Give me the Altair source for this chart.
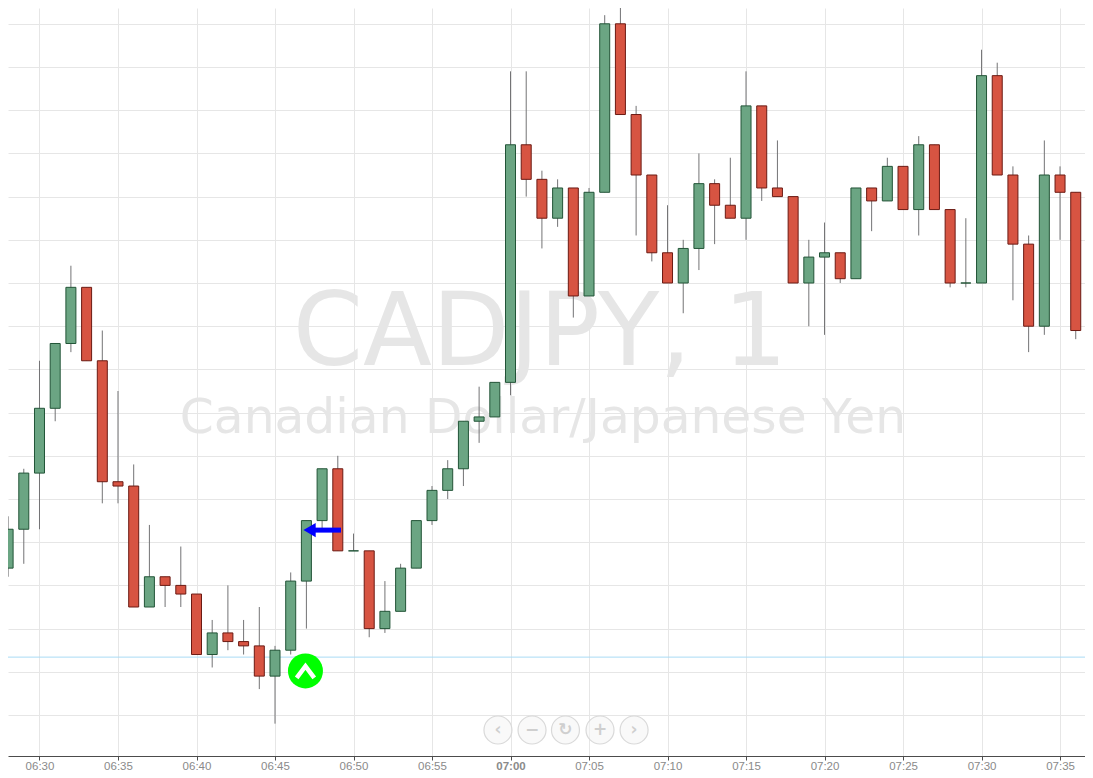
import altair as alt
import pandas as pd

BASE = 84.0
START = 388  # first candle, minutes after midnight (06:28)

# candle values, thousandths of a yen above BASE
opens = [34,43,56,71,86,99,82,54,53,25,32,30,28,14,19,17,16,9,15,31,45,57,38,38,20,24,34,45,52,57,68,69,77,132,124,115,122,97,121,160,139,125,107,100,108,123,118,115,141,122,120,100,106,107,101,122,119,127,117,132,117,100,100,148,125,109,90,125,121,89]
closes = [43,56,71,86,99,82,54,53,25,32,30,28,14,19,17,16,9,15,31,45,57,38,38,20,24,34,45,52,57,68,69,77,132,124,115,122,97,121,160,139,125,107,100,108,123,118,115,141,122,120,100,106,107,101,122,119,127,117,132,117,100,100,148,125,109,90,125,121,89,66]
highs = [46,57,82,86,104,99,89,75,58,44,32,39,28,22,30,22,25,16,33,45,57,60,42,38,31,35,45,53,59,68,76,77,149,149,126,124,122,122,162,166,141,125,118,110,130,124,129,149,141,133,120,110,114,107,122,122,129,127,134,132,117,115,154,151,127,111,133,127,121,102]
lows = [32,35,43,68,84,82,49,49,25,25,25,25,14,11,15,14,6,-2,14,20,43,38,38,18,19,24,34,44,50,53,63,69,74,120,108,113,92,97,121,139,111,105,100,93,103,109,115,110,119,120,100,90,88,100,101,112,119,117,111,117,99,99,100,125,96,84,88,110,87,63]

tick_minutes = list(range(390, 456, 5))
grid_levels = [BASE + i / 100 for i in range(0, 17)]

title_main = "CADJPY, 1"
title_sub = "Canadian Dollar/Japanese Yen"
nav_minutes = [419.2, 421.37, 423.5, 425.7, 427.87]
nav_glyphs = ["‹", "−", "↻", "+", "›"]

def price(q):
    return BASE + q / 1000

candles = pd.DataFrame({
    "minute": [START + i for i in range(len(opens))],
    "open": [price(v) for v in opens],
    "close": [price(v) for v in closes],
    "high": [price(v) for v in highs],
    "low": [price(v) for v in lows],
})
candles["dir"] = ["up" if c >= o else "down" for o, c in zip(opens, closes)]

xs = alt.Scale(domain=[387.994, 456.59], nice=False, zero=False, padding=0)
ys = alt.Scale(domain=[83.99051, 84.16366], nice=False, zero=False, padding=0)

x_axis = alt.Axis(
    values=tick_minutes, grid=True, gridColor="#e6e6e6", gridWidth=1, title=None,
    domainColor="#4c4c4c", domainWidth=1, tickColor="#4c4c4c", tickSize=4,
    labelColor="#8a8a8a", labelFont="Liberation Sans", labelFontSize=11.5, labelPadding=0,
    labelFlush=False, labelOverlap=False,
    labelExpr="format(floor(datum.value/60),'02') + ':' + format(datum.value%60,'02')",
    labelFontWeight=alt.condition("datum.value == 420", alt.value("bold"), alt.value("normal")),
)
y_axis = alt.Axis(
    values=grid_levels, grid=True, gridColor="#e6e6e6", gridWidth=1, title=None,
    labels=False, ticks=False, domain=False,
)
X = lambda f="minute": alt.X(f"{f}:Q", scale=xs, axis=x_axis)
Y = lambda f="price": alt.Y(f"{f}:Q", scale=ys, axis=y_axis)

fills = alt.Scale(domain=["up", "down"], range=["#6ba583", "#d75442"])
strokes = alt.Scale(domain=["up", "down"], range=["#225437", "#6b1a13"])

watermark = alt.Chart(pd.DataFrame({
    "minute": [421.88, 422.07], "price": [price(81), price(65.3)],
    "label": [title_main, title_sub], "size": [100.7, 48.7],
})).mark_text(font="DejaVu Sans", color="#e6e6e6", align="center", baseline="alphabetic").encode(
    x=X(), y=Y(), text="label:N", size=alt.Size("size:Q", scale=None, legend=None),
)

level = alt.Chart(pd.DataFrame({"price": [price(13.4)]})).mark_rule(color="#a9dcf5", strokeWidth=1).encode(y=Y())

wicks = alt.Chart(candles).mark_rule(color="#737375", strokeWidth=1, clip=True).encode(
    x=X(), y=Y("low"), y2="high:Q",
)
bodies = alt.Chart(candles).mark_bar(width=10, strokeWidth=1, clip=True).encode(
    x=X(), y=Y("open"), y2="close:Q",
    fill=alt.Fill("dir:N", scale=fills, legend=None),
    stroke=alt.Stroke("dir:N", scale=strokes, legend=None),
)

badge = alt.Chart(pd.DataFrame({"minute": [406.94], "price": [price(10.2)]})).mark_point(
    shape="circle", filled=True, size=1225, color="#00ff00", opacity=1).encode(x=X(), y=Y())
chevron = alt.Chart(pd.DataFrame({"minute": [406.38, 406.94, 407.5], "price": [price(8.6), price(11.3), price(8.6)]})).mark_line(
    color="#ffffff", strokeWidth=4.5).encode(x=X(), y=Y())

shaft = alt.Chart(pd.DataFrame({"minute": [407.3], "end": [409.2], "price": [price(42.8)]})).mark_rule(
    color="#0000ff", strokeWidth=5).encode(x=X(), x2="end:Q", y=Y())
head = alt.Chart(pd.DataFrame({"minute": [407.2], "price": [price(42.8)]})).mark_point(
    shape="triangle-left", filled=True, size=200, color="#0000ff", opacity=1).encode(x=X(), y=Y())

nav = pd.DataFrame({"minute": nav_minutes, "price": [price(-3.47)] * 5, "glyph": nav_glyphs})
nav_circles = alt.Chart(nav).mark_point(shape="circle", filled=False, size=784, stroke="#d9d9d9", strokeWidth=1.2, fill="#f5f5f5", fillOpacity=0.6, opacity=1).encode(x=X(), y=Y())
nav_text = alt.Chart(nav).mark_text(font="DejaVu Sans", fontSize=17, fontWeight="bold", color="#cfcfcf", align="center", baseline="middle").encode(
    x=X(), y=Y(), text="glyph:N")

chart = alt.layer(watermark, level, wicks, bodies, badge, chevron, shaft, head, nav_circles, nav_text).properties(
    width=1077, height=748, background="#ffffff",
    padding={"left": 0, "top": 0, "right": 0, "bottom": 20},
    autosize=alt.AutoSizeParams(type="none"),
).configure_view(strokeWidth=0)

chart.save("out.html", embed_options={"renderer": "svg", "actions": False})
